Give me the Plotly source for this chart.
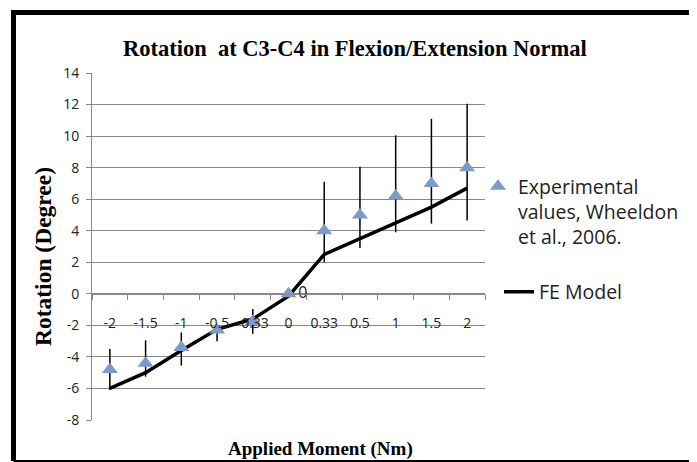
import plotly.graph_objects as go

# ---- data ----
moments = ["-2", "-1.5", "-1", "-0.5", "-0.33", "0", "0.33", "0.5", "1", "1.5", "2"]
fe_model = [-6.0, -5.0, -3.6, -2.25, -1.6, -0.15, 2.5, 3.5, 4.5, 5.5, 6.7]
experimental = [-4.8, -4.4, -3.4, -2.3, -1.75, 0.0, 4.0, 5.0, 6.2, 7.0, 8.0]
err_plus = [1.3, 1.45, 0.95, 0.35, 0.78, 0.0, 3.1, 3.05, 3.85, 4.1, 4.05]
err_minus = [1.3, 0.85, 1.15, 0.7, 0.78, 0.0, 2.0, 2.1, 2.3, 2.55, 3.35]
exp_labels = ["", "", "", "", "", "0", "", "", "", "", ""]
y_ticks = list(range(-8, 15, 2))

W, H = 697, 462
OFF = 8  # default page body margin
# plot area in page pixels: x 92..485, y 73..420
ML = 92 - OFF
MT = 73 - OFF
MR = W - (485 - OFF)
MB = H - (420 - OFF)
PW = W - ML - MR
PH = H - MT - MB

def px_x(px):
    return (px - OFF - ML) / PW

def px_y(py):
    return (H - MB - (py - OFF)) / PH

ymin, ymax = -8, 14
zero_pos = (0 - ymin) / (ymax - ymin)

sans = "Open Sans, Lato, sans-serif"
serif = "Liberation Serif, Times New Roman, serif"

fig = go.Figure()

fig.add_trace(go.Scatter(
    x=moments, y=fe_model, mode="lines", name="FE Model",
    line=dict(color="black", width=3.5), legend="legend2",
))

fig.add_trace(go.Scatter(
    x=moments, y=experimental, mode="markers+text",
    name="Experimental<br>values, Wheeldon<br>et al., 2006.",
    marker=dict(symbol="triangle-up", size=14, color="#7B9BCB"),
    text=exp_labels, textposition="middle right",
    textfont=dict(family=sans, size=16, color="#222"),
    error_y=dict(type="data", symmetric=False, array=err_plus, arrayminus=err_minus,
                 color="black", thickness=1.5, width=0),
    legend="legend",
))

fig.update_xaxes(
    type="category", categoryorder="array", categoryarray=moments,
    range=[-0.5, 10.5], anchor="free", position=zero_pos,
    showline=True, linecolor="#888", linewidth=1,
    ticks="outside", ticklen=5, tickcolor="#888", tickson="boundaries",
    showgrid=False, tickfont=dict(family=sans, size=14, color="#222"),
    tickangle=0, ticklabelstandoff=16, automargin=False,
)
fig.update_yaxes(
    range=[ymin, ymax], tickvals=y_ticks, ticktext=[str(v) for v in y_ticks],
    showline=True, linecolor="#888", linewidth=1,
    ticks="outside", ticklen=5, tickcolor="#888",
    showgrid=True, gridcolor="#888", gridwidth=1, zeroline=False,
    tickfont=dict(family=sans, size=14, color="#222"),
    ticklabelstandoff=4, automargin=False,
)

frame_left = px_x(13.5)
frame_right = px_x(691.5)
frame_top = px_y(12.5)
frame_bottom = px_y(461)
shapes = [
    dict(type="line", xref="paper", yref="paper", x0=frame_left, x1=frame_left,
         y0=frame_bottom, y1=frame_top + 2.5 / PH, line=dict(color="black", width=5)),
    dict(type="line", xref="paper", yref="paper", x0=frame_left - 2.5 / PW, x1=frame_right + 2.5 / PW,
         y0=frame_top, y1=frame_top, line=dict(color="black", width=5)),
    dict(type="line", xref="paper", yref="paper", x0=frame_right, x1=frame_right,
         y0=frame_bottom, y1=frame_top + 2.5 / PH, line=dict(color="black", width=5)),
    dict(type="line", xref="paper", yref="paper", x0=frame_left, x1=frame_right,
         y0=frame_bottom, y1=frame_bottom, line=dict(color="black", width=2)),
]

annotations = [
    dict(text="<b>Rotation (Degree)</b>", xref="paper", yref="paper",
         x=px_x(43), y=px_y(257), textangle=-90, showarrow=False,
         font=dict(family=serif, size=23.5, color="black"), xanchor="center", yanchor="middle"),
    dict(text="<b>Applied Moment (Nm)</b>", xref="paper", yref="paper",
         x=px_x(320), y=px_y(449), showarrow=False,
         font=dict(family=serif, size=19, color="black"), xanchor="center", yanchor="middle"),
    dict(text="<b>Rotation  at C3-C4 in Flexion/Extension Normal</b>", xref="paper", yref="paper",
         x=px_x(355), y=px_y(48), showarrow=False,
         font=dict(family=serif, size=22.5, color="black"), xanchor="center", yanchor="middle"),
]

fig.update_layout(
    width=W, height=H,
    margin=dict(l=ML, r=MR, t=MT, b=MB, autoexpand=False),
    paper_bgcolor="white", plot_bgcolor="white",
    legend=dict(x=px_x(478), y=px_y(167), xanchor="left", yanchor="top",
                font=dict(family=sans, size=19.5, color="#222"),
                bgcolor="rgba(0,0,0,0)", valign="top"),
    legend2=dict(x=px_x(499), y=px_y(292), xanchor="left", yanchor="middle",
                 font=dict(family=sans, size=19.5, color="#222"),
                 bgcolor="rgba(0,0,0,0)"),
    showlegend=True,
    shapes=shapes,
    annotations=annotations,
)

fig.write_html("out.html")
